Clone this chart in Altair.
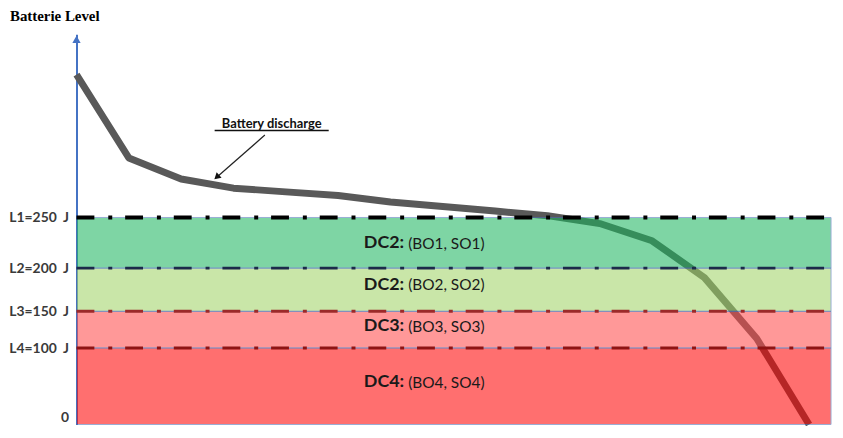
import altair as alt
import pandas as pd

# --- data ---
times = list(range(15))
levels = [406, 315, 292, 282, 278, 274, 267, 262, 257, 252, 244, 227, 189, 113, 0]

band_names = ["DC2:", "DC2:", "DC3:", "DC4:"]
band_params = ["(BO1, SO1)", "(BO2, SO2)", "(BO3, SO3)", "(BO4, SO4)"]
band_low = [200, 150, 100, 0]
band_high = [250, 200, 150, 100]
band_label_y = [225, 181, 130, 56]
band_colors = ["#1bb65e", "#9fd465", "#ff4949", "#ff0000"]

threshold_values = [250, 200, 150, 100]
threshold_colors = ["#000000", "#1c2a4a", "#9c2a2a", "#8e1414"]
threshold_widths = [4, 3, 3, 3]

tick_values = [0, 100, 150, 200, 250]
tick_labels = ["0", "L4=100\u00a0 J", "L3=150\u00a0 J", "L2=200\u00a0 J", "L1=250\u00a0 J"]

x_start, x_end = 0, 14.42
y_top = 450
label_x = 6.3

W, H = 760, 393

xs = alt.Scale(domain=[x_start, x_end], nice=False, zero=False)
ys = alt.Scale(domain=[0, 100, 150, 200, 250, y_top], range=[H, 316, 279, 235.5, 184.5, 0],
               nice=False, zero=False)

label_expr = "{" + ",".join(f"'{v}':'{l}'" for v, l in zip(tick_values, tick_labels)) + "}[datum.value]"

line_df = pd.DataFrame({"t": times, "level": levels})
band_df = pd.DataFrame({
    "name": band_names, "params": band_params, "low": band_low, "high": band_high,
    "color": band_colors, "ly": band_label_y,
    "x0": x_start, "x1": x_end, "lx": label_x,
})
thr_df = pd.DataFrame({"v": threshold_values, "color": threshold_colors,
                       "w": threshold_widths, "x0": x_start, "x1": x_end})

axis_y = alt.Axis(values=tick_values, labelExpr=label_expr, ticks=False, grid=False,
                  domainColor="#4472C4", domainWidth=2, labelFont="Lato", labelFontSize=14,
                  labelFontWeight="bold", labelColor="#3a3a3a", labelPadding=8,
                  labelFlush=True, title=None)

base_line = alt.Chart(line_df).mark_line(color="#595959", strokeWidth=7, strokeJoin="round").encode(
    x=alt.X("t:Q", scale=xs, axis=None),
    y=alt.Y("level:Q", scale=ys, axis=axis_y),
)

bands = alt.Chart(band_df).mark_rect(opacity=0.56, stroke="#4a6fb5", strokeWidth=1, strokeOpacity=1).encode(
    x=alt.X("x0:Q", scale=xs), x2="x1:Q",
    y=alt.Y("high:Q", scale=ys), y2="low:Q",
    color=alt.Color("color:N", scale=None),
)

thr = alt.Chart(thr_df).mark_rule(strokeDash=[18, 14, 4, 13]).encode(
    x=alt.X("x0:Q", scale=xs), x2="x1:Q",
    y=alt.Y("v:Q", scale=ys),
    color=alt.Color("color:N", scale=None),
    strokeWidth=alt.StrokeWidth("w:Q", scale=None),
)

bold_txt = alt.Chart(band_df).mark_text(align="right", baseline="middle", dx=-2,
                                        font="Lato", fontSize=18, fontWeight="bold", color="#1a1a1a").encode(
    x=alt.X("lx:Q", scale=xs), y=alt.Y("ly:Q", scale=ys), text="name:N")
reg_txt = alt.Chart(band_df).mark_text(align="left", baseline="middle", dx=2, dy=1,
                                       font="Lato", fontSize=15.5, color="#1a1a1a").encode(
    x=alt.X("lx:Q", scale=xs), y=alt.Y("ly:Q", scale=ys), text="params:N")

# y-axis arrow head
arrow_df = pd.DataFrame({"x": [x_start], "y": [y_top]})
axis_arrow = alt.Chart(arrow_df).mark_point(shape="triangle-up", filled=True, size=70,
                                            color="#4472C4", opacity=1, yOffset=5).encode(
    x=alt.X("x:Q", scale=xs), y=alt.Y("y:Q", scale=ys))

# annotation "Battery discharge"
ann_df = pd.DataFrame({"x": [3.73], "y": [352], "text": ["Battery discharge"]})
ann_text = alt.Chart(ann_df).mark_text(font="Lato", fontSize=13, fontWeight="bold",
                                       color="#111", baseline="middle").encode(
    x=alt.X("x:Q", scale=xs), y=alt.Y("y:Q", scale=ys), text="text:N")
ul_df = pd.DataFrame({"x": [2.64], "x2": [4.82], "y": [345]})
underline = alt.Chart(ul_df).mark_rule(color="#111", strokeWidth=1.3).encode(
    x=alt.X("x:Q", scale=xs), x2="x2:Q", y=alt.Y("y:Q", scale=ys))
arr_df = pd.DataFrame({"x": [3.60], "y": [340], "x2": [2.68], "y2": [294]})
arrow_line = alt.Chart(arr_df).mark_rule(color="#222", strokeWidth=1.2).encode(
    x=alt.X("x:Q", scale=xs), y=alt.Y("y:Q", scale=ys), x2="x2:Q", y2="y2:Q")
arrow_head = alt.Chart(arr_df).mark_point(shape="triangle-up", filled=True, size=55, angle=228,
                                          color="#111", opacity=1).encode(
    x=alt.X("x2:Q", scale=xs), y=alt.Y("y2:Q", scale=ys))

chart = alt.layer(base_line, bands, thr, bold_txt, reg_txt, axis_arrow,
                  arrow_line, arrow_head, underline, ann_text).properties(
    width=W, height=H,
    autosize=alt.AutoSizeParams(type="none"),
    padding={"left": 69, "top": 25, "right": 4, "bottom": 0},
    title=alt.TitleParams("Batterie Level", anchor="start", frame="group", dx=-67, offset=10,
                          font="Liberation Serif", fontSize=15, fontWeight="bold", color="#000"),
).configure_view(stroke=None)

chart.save("out.html", embed_options={"renderer": "svg", "actions": False})
